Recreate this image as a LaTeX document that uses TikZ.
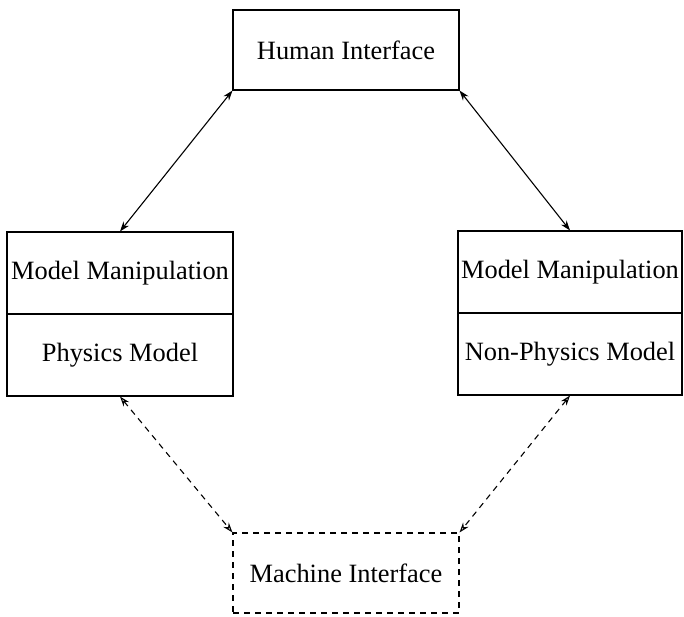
\documentclass[tikz,border=0pt]{standalone}
\usepackage{fontspec}
\setmainfont{Liberation Serif}
\usetikzlibrary{arrows.meta}
\begin{document}
\begin{tikzpicture}[x=1pt,y=-1pt,
  box/.style={draw, line width=1.1pt, inner sep=0pt, font=\fontsize{26.4}{30}\selectfont},
  solidlink/.style={line width=1.1pt, {Stealth[length=10pt,width=7pt]}-{Stealth[length=10pt,width=7pt]}},
  dashlink/.style={line width=1.1pt, dash pattern=on 6pt off 5pt, {Stealth[open,length=10pt,width=7pt]}-{Stealth[open,length=10pt,width=7pt]}}]
\useasboundingbox (0,0) rectangle (684,616);
\node[box, minimum width=226pt, minimum height=80pt] (hi) at (346,50) {Human Interface};
\node[box, minimum width=226pt, minimum height=82pt] (lt) at (120,273) {Model Manipulation};
\node[box, minimum width=226pt, minimum height=82pt] (lb) at (120,355) {Physics Model};
\node[box, minimum width=224pt, minimum height=82pt] (rt) at (570,272) {Model Manipulation};
\node[box, minimum width=224pt, minimum height=82pt] (rb) at (570,354) {Non-Physics Model};
\node[box, dash pattern=on 6pt off 5pt, minimum width=226pt, minimum height=80pt] (mi) at (346,573) {Machine Interface};
\draw[solidlink] (hi.south west) -- (lt.north);
\draw[solidlink] (hi.south east) -- (rt.north);
\draw[dashlink] (lb.south) -- (mi.north west);
\draw[dashlink] (rb.south) -- (mi.north east);
\end{tikzpicture}
\end{document}
